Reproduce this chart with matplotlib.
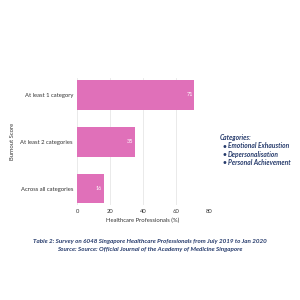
import matplotlib.pyplot as plt

plt.rcParams['font.family'] = ['Lato', 'DejaVu Sans']

categories = ['At least 1 category', 'At least 2 categories', 'Across all categories']
values = [71, 35, 16]
legend_items = ['Emotional Exhaustion', 'Depersonalisation', 'Personal Achievement']

navy = '#253a6b'
pink = '#e070b9'

fig = plt.figure(figsize=(3, 3), dpi=100)
ax = fig.add_axes([0.257, 0.317, 0.44, 0.423])

bars = ax.barh(categories, values, height=0.64, color=pink, zorder=2)
for b, v in zip(bars, values):
    ax.text(b.get_width() - 1, b.get_y() + b.get_height() / 2, str(v),
            ha='right', va='center', color='white', fontsize=4)

ax.set_xlim(0, 80)
ax.set_ylim(2.35, -0.36)
ax.set_xticks([0, 20, 40, 60, 80])
ax.grid(axis='x', color='#e6e6e6', linewidth=0.6, zorder=0)
for s in ax.spines.values():
    s.set_visible(False)
ax.tick_params(length=0, labelsize=4.2, colors='#333333', pad=3)
ax.set_xlabel('Healthcare Professionals (%)', fontsize=4.2, color='#333333', labelpad=3)
ax.set_ylabel('Burnout Score', fontsize=4.2, color='#333333', labelpad=4)

fig.text(0.733, 0.533, 'Categories:', fontsize=4.8, color=navy,
         fontweight='bold', style='italic')
for i, item in enumerate(legend_items):
    y = 0.505 - i * 0.028
    fig.text(0.743, y, '\u2022', fontsize=4.8, color=navy, fontweight='bold')
    fig.text(0.76, y, item, fontsize=4.8, color=navy, fontweight='bold', style='italic')

fig.text(0.5, 0.19, 'Table 2: Survey on 6048 Singapore Healthcare Professionals from July 2019 to Jan 2020',
         ha='center', fontsize=4.5, color=navy, fontweight='bold', style='italic')
fig.text(0.5, 0.163, 'Source: Source: Official Journal of the Academy of Medicine Singapore',
         ha='center', fontsize=4.5, color=navy, fontweight='bold', style='italic')

fig.savefig('out.png', dpi=100, facecolor='white')
